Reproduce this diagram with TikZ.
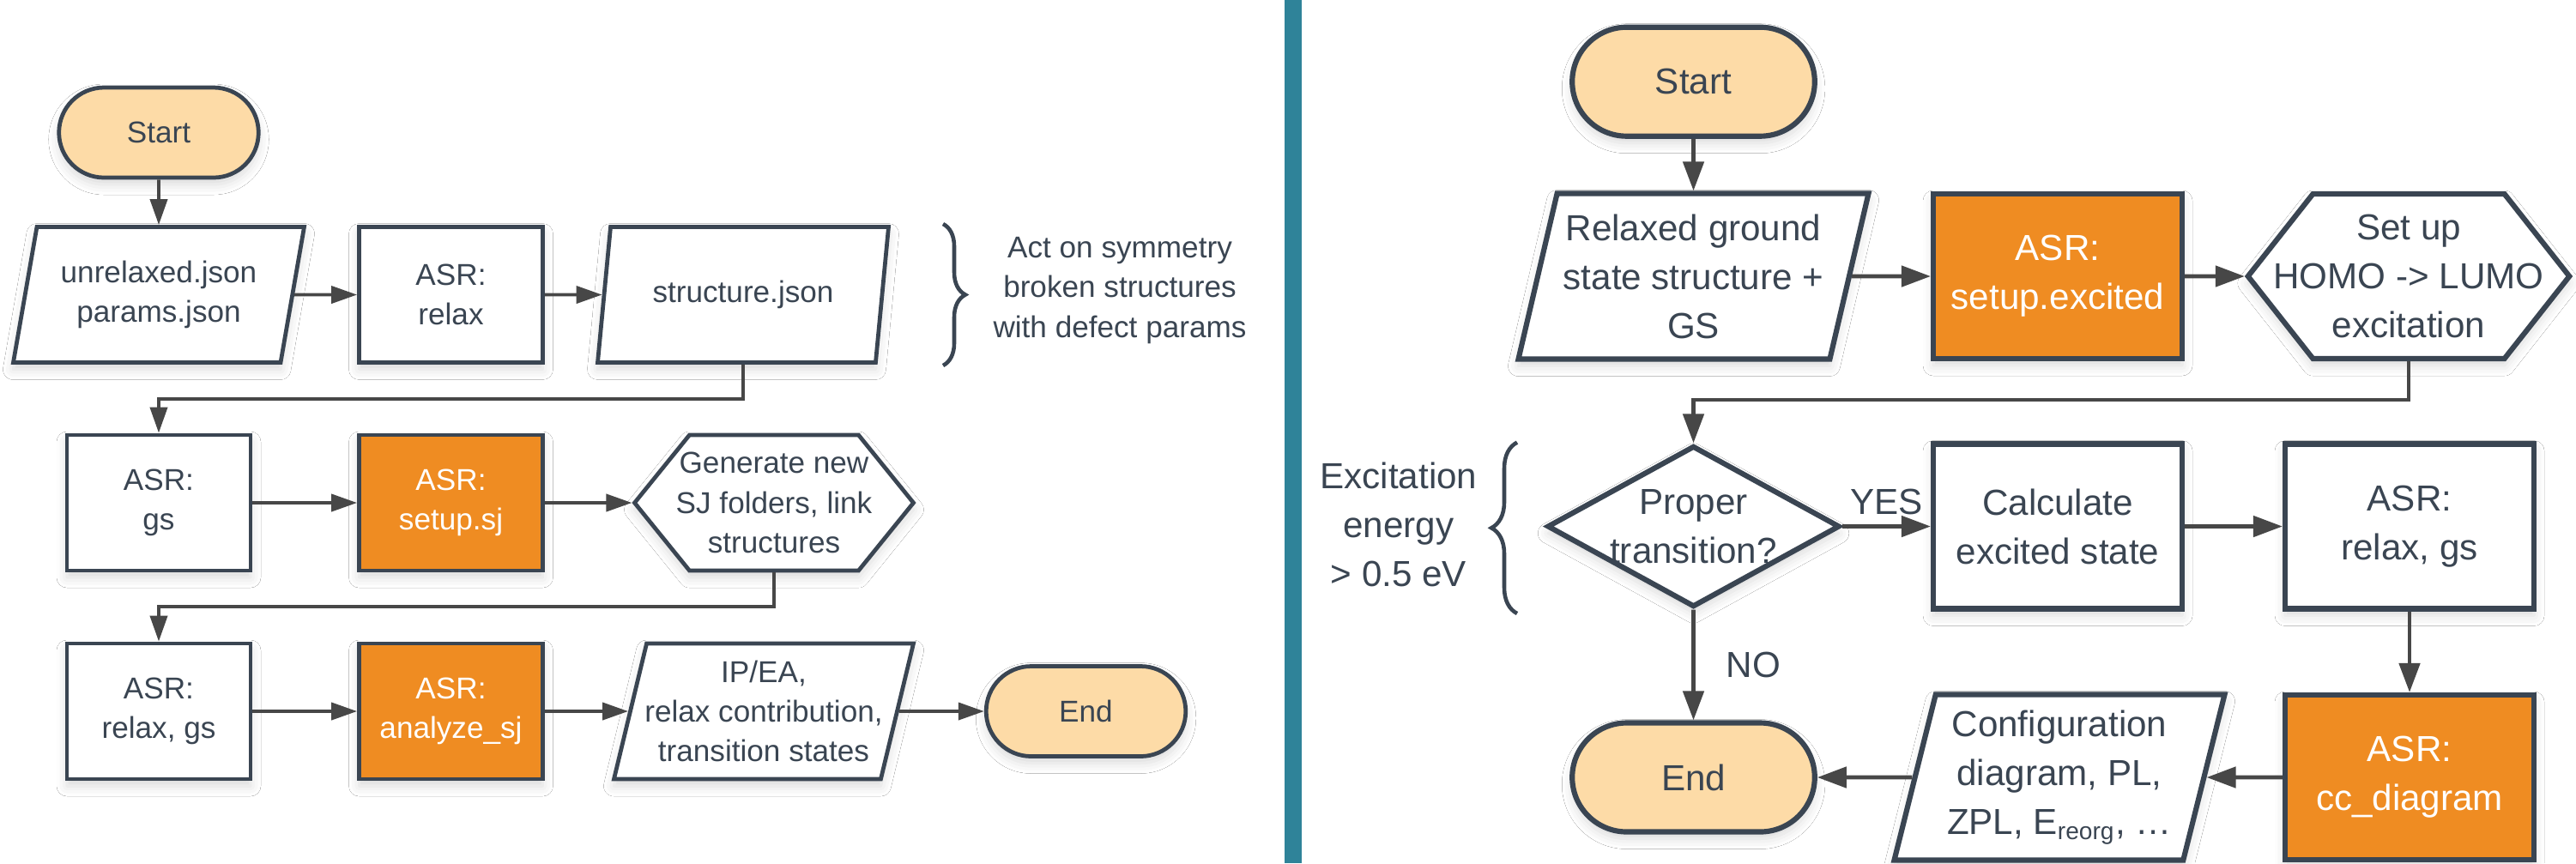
\documentclass[tikz,border=0pt]{standalone}
\usepackage{fontspec}
\setmainfont{Liberation Sans}
\usetikzlibrary{arrows.meta,shapes.geometric,shapes.misc,shapes.symbols,decorations.pathreplacing,shadows.blur}

\definecolor{ink}{HTML}{3A4552}
\definecolor{wire}{HTML}{474747}
\definecolor{asrorange}{HTML}{EF8C22}
\definecolor{peach}{HTML}{FDDBA7}
\definecolor{divider}{HTML}{2F8399}

\tikzset{
  box/.style = {draw=ink, fill=white, text=ink, align=center, line width=1.35pt,
    font=\fontsize{10}{13.2}\selectfont,
    blur shadow={shadow xshift=0pt, shadow yshift=-0.8mm, shadow blur radius=1.2mm, shadow opacity=15}},
  proc/.style = {box, rectangle, minimum width=2.14cm, minimum height=1.58cm},
  asr/.style = {proc, fill=asrorange, text=white},
  term/.style = {box, rounded rectangle, fill=peach, minimum width=2.56cm, minimum height=1.05cm},
  io/.style = {box, trapezium, trapezium left angle=75, trapezium right angle=105,
    trapezium stretches body, inner xsep=-2mm, minimum height=1.58cm},
  prep/.style = {box, signal, signal to=east and west, signal pointer angle=102,
    minimum height=1.58cm},
  ask/.style = {box, diamond, aspect=1.79, inner xsep=-1mm, inner ysep=0pt},
  link/.style = {draw=wire, line width=1.1pt, -{Triangle[length=3mm, width=2mm]}},
  curly/.style = {draw=ink, line width=1.3pt, decorate, decoration={brace, amplitude=2.6mm}},
  note/.style = {text=ink, align=center, font=\fontsize{10}{13.2}\selectfont},
}

\begin{document}
\begin{tikzpicture}
  \useasboundingbox (0,0) rectangle (30.02,-10.06);
  \fill[white] (0,0) rectangle (30.02,-10.06);

  % left half: symmetry broken structures
  \node[term] (start1) at (1.85,-1.545) {Start};
  \node[io, minimum width=3.39cm] (in1) at (1.85,-3.435) {unrelaxed.json\\params.json};
  \node[proc] (relax1) at (5.255,-3.435) {ASR:\\relax};
  \node[io, minimum width=3.39cm] (struct1) at (8.66,-3.435) {structure.json};
  \node[proc] (gs1) at (1.85,-5.86) {ASR:\\gs};
  \node[asr] (setup1) at (5.255,-5.86) {ASR:\\setup.sj};
  \node[prep, minimum width=3.25cm, inner xsep=-1.6mm] (gen1) at (9.02,-5.86) {Generate new\\SJ folders, link\\structures};
  \node[proc] (relaxgs1) at (1.85,-8.29) {ASR:\\relax, gs};
  \node[asr] (analyze1) at (5.255,-8.29) {ASR:\\analyze\_sj};
  \node[io, minimum width=3.49cm] (out1) at (8.90,-8.29) {IP/EA,\\relax contribution,\\transition states};
  \node[term] (end1) at (12.655,-8.29) {End};

  \draw[link] (start1) -- (in1);
  \draw[link] (in1) -- (relax1);
  \draw[link] (relax1) -- (struct1);
  \draw[link] (struct1.south) -- ++(0,-0.40) -| (gs1.north);
  \draw[link] (gs1) -- (setup1);
  \draw[link] (setup1) -- (gen1);
  \draw[link] (gen1.south) -- ++(0,-0.40) -| (relaxgs1.north);
  \draw[link] (relaxgs1) -- (analyze1);
  \draw[link] (analyze1) -- (out1);
  \draw[link] (out1) -- (end1);

  \draw[curly] (10.99,-2.61) -- (10.99,-4.26);
  \node[note] (note1) at (13.05,-3.385) {Act on symmetry\\broken structures\\with defect params};

  \fill[divider] (14.97,0) rectangle (15.17,-10.06);

  % right half: excited states
  \begin{scope}[
    box/.append style = {font=\fontsize{12}{16.2}\selectfont, line width=1.75pt},
    proc/.append style = {minimum width=2.90cm, minimum height=1.92cm},
    term/.append style = {minimum width=3.06cm, minimum height=1.27cm},
    io/.append style = {minimum height=1.93cm},
    link/.append style = {line width=1.35pt, -{Triangle[length=3.4mm, width=2.4mm]}},
    note/.append style = {font=\fontsize{12}{16.2}\selectfont},
    curly/.append style = {decoration={brace, amplitude=3mm}},
  ]
  \node[term] (start2) at (19.735,-0.952) {Start};
  \node[io, minimum width=4.08cm] (in2) at (19.735,-3.22) {Relaxed ground\\state structure +\\GS};
  \node[asr] (setup2) at (23.98,-3.22) {ASR:\\setup.excited};
  \node[prep, minimum width=3.74cm, minimum height=1.92cm, signal pointer angle=103.5, inner xsep=-4.6mm] (homo2) at (28.07,-3.22) {Set up\\HOMO -> LUMO\\excitation};
  \node[ask, minimum width=3.41cm, minimum height=1.88cm] (dec2) at (19.735,-6.135) {Proper\\transition?};
  \node[proc] (calc2) at (23.98,-6.135) {Calculate\\excited state};
  \node[proc] (relaxgs2) at (28.08,-6.135) {ASR:\\relax, gs};
  \node[asr] (cc2) at (28.08,-9.06) {ASR:\\cc\_diagram};
  \node[io, minimum width=3.85cm] (conf2) at (24.0,-9.06) {Configuration\\diagram, PL,\\ZPL, E\textsubscript{reorg}, …};
  \node[term] (end2) at (19.735,-9.06) {End};

  \draw[link] (start2) -- (in2);
  \draw[link] (in2) -- (setup2);
  \draw[link] (setup2) -- (homo2);
  \draw[link] (homo2.south) -- ++(0,-0.45) -| (dec2.north);
  \draw[link] (dec2) -- node[note, above] (yes2) {YES} (calc2);
  \draw[link] (dec2) -- node[note, right, xshift=2.4mm] (no2) {NO} (end2);
  \draw[link] (calc2) -- (relaxgs2);
  \draw[link] (relaxgs2) -- (cc2);
  \draw[link] (cc2) -- (conf2);
  \draw[link] (conf2) -- (end2);

  \draw[curly] (17.68,-7.15) -- (17.68,-5.156);
  \node[note] (note2) at (16.30,-6.11) {Excitation\\energy\\> 0.5 eV};
  \end{scope}
\end{tikzpicture}
\end{document}
